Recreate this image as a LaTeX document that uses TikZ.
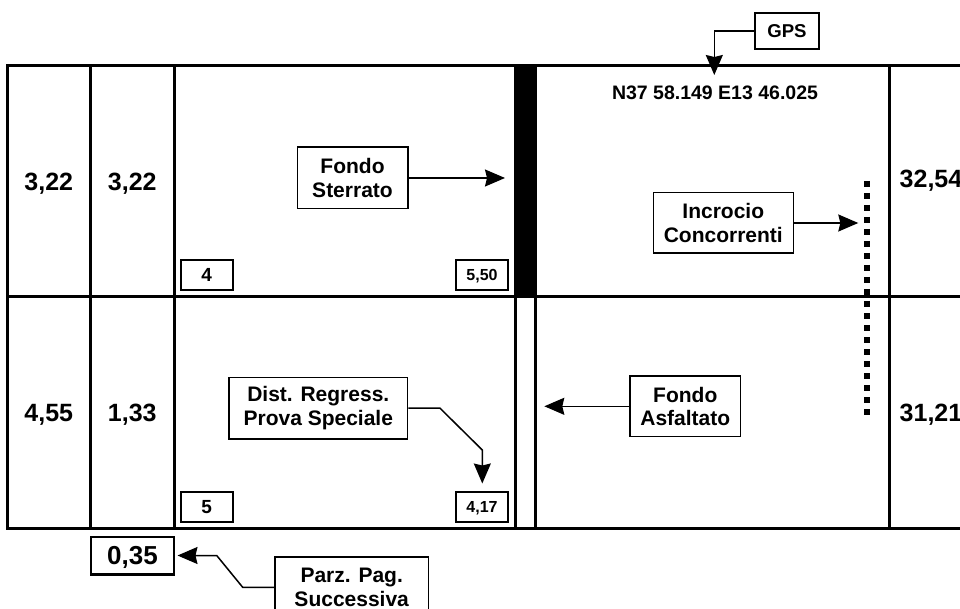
\documentclass[tikz,border=0pt]{standalone}
\usepackage{fontspec}
\setmainfont{Liberation Sans}
\usetikzlibrary{arrows.meta}
\begin{document}
\begin{tikzpicture}[x=1pt,y=-1pt,
  grid/.style={line width=3pt, line cap=rect},
  lbl/.style={draw, line width=1.6pt, fill=white, align=center, inner sep=0pt,
    font=\fontsize{21}{23.5}\selectfont\bfseries},
  smallbox/.style={draw, line width=2pt, inner sep=0pt, minimum width=52pt, minimum height=30pt,
    text height=11.5pt, text depth=0pt},
  valfont/.style={font=\fontsize{16}{18}\selectfont\bfseries},
  idxfont/.style={font=\fontsize{19}{21}\selectfont\bfseries, text height=13.6pt},
  num/.style={inner sep=0pt, font=\fontsize{25}{28}\selectfont\bfseries, text height=18pt, text depth=0pt},
  arr/.style={line width=1.5pt, -{Stealth[length=20pt,width=17pt,inset=2pt]}},
]
\useasboundingbox (0,0) rectangle (960,609);
\clip (0,0) rectangle (960,609);

% table
\draw[grid] (7,66) -- (962,66);
\draw[grid] (7,297) -- (962,297);
\draw[grid] (7,528) -- (962,528);
\foreach \x in {7,90.7,174,515,535.5,889}
  \draw[grid] (\x,66) -- (\x,528);
\fill (515,66) rectangle (535.5,297);

% column values
\node[num] (a1) at (48.8,181.5) {3,22};
\node[num] (b1) at (132.3,181.5) {3,22};
\node[num] (a2) at (48.8,412.5) {4,55};
\node[num] (b2) at (132.3,412.5) {1,33};
\node[num, anchor=west] (r1) at (899.5,179) {32,54};
\node[num, anchor=west] (r2) at (899.5,412) {31,21};

% small boxes
\node[smallbox, idxfont] (i4) at (206.7,275) {4};
\node[smallbox, valfont] (v550) at (482,275) {5,50};
\node[smallbox, idxfont] (i5) at (206.7,506.7) {5};
\node[smallbox, valfont] (v417) at (482,506.7) {4,17};

% GPS
\node[draw, line width=1.6pt, inner sep=0pt, minimum width=64pt, minimum height=36pt,
  font=\fontsize{18.6}{21}\selectfont\bfseries, text height=13.4pt, text depth=0pt] (gps) at (787,31) {GPS};
\coordinate (gpstip) at (714.3,75);
\draw[arr] (gps.west) -- (714.3,31) -- (gpstip);
\node[inner sep=0pt, font=\fontsize{19.5}{22}\selectfont\bfseries, text height=14pt, text depth=0pt] (coord) at (715,93) {N37 58.149 E13 46.025};

% label boxes
\node[lbl, minimum width=110.4pt, minimum height=61.4pt] (sterr) at (352.5,178) {Fondo\\Sterrato};
\coordinate (sterrtip) at (505,178);
\draw[arr] (sterr.east) -- (sterrtip);

\node[lbl, minimum width=140pt, minimum height=60.6pt] (incr) at (723.3,223) {Incrocio\\Concorrenti};
\coordinate (incrtip) at (858.3,223);
\draw[arr] (incr.east) -- (incrtip);

\node[lbl, minimum width=110.7pt, minimum height=60.7pt] (asf) at (685.3,406.3) {Fondo\\Asfaltato};
\coordinate (asftip) at (544.3,406.3);
\draw[arr] (asf.west) -- (asftip);

\node[lbl, minimum width=178.7pt, minimum height=61.7pt] (dist) at (318.3,408.2) {Dist. Regress.\\Prova Speciale};
\coordinate (disttip) at (482.3,483.5);
\draw[arr] (dist.east) -- (440,408.2) -- (482.3,450) -- (disttip);

% dotted line
\draw[line width=5.6pt, dash pattern=on 6pt off 6pt] (866.7,181) -- (866.7,417);

% bottom
\node[draw, line width=2.4pt, inner sep=0pt, minimum width=83pt, minimum height=37.6pt,
  font=\fontsize{26}{28}\selectfont\bfseries, text height=18.7pt, text depth=0pt] (parz) at (132.5,555.5) {0,35};
\node[lbl, minimum width=153.3pt, minimum height=61pt] (succ) at (351.7,587.3) {Parz. Pag.\\Successiva};
\coordinate (parztip) at (177.5,555.5);
\draw[arr] (succ.west) -- (242.7,587.3) -- (216.7,555.5) -- (parztip);
\end{tikzpicture}
\end{document}
